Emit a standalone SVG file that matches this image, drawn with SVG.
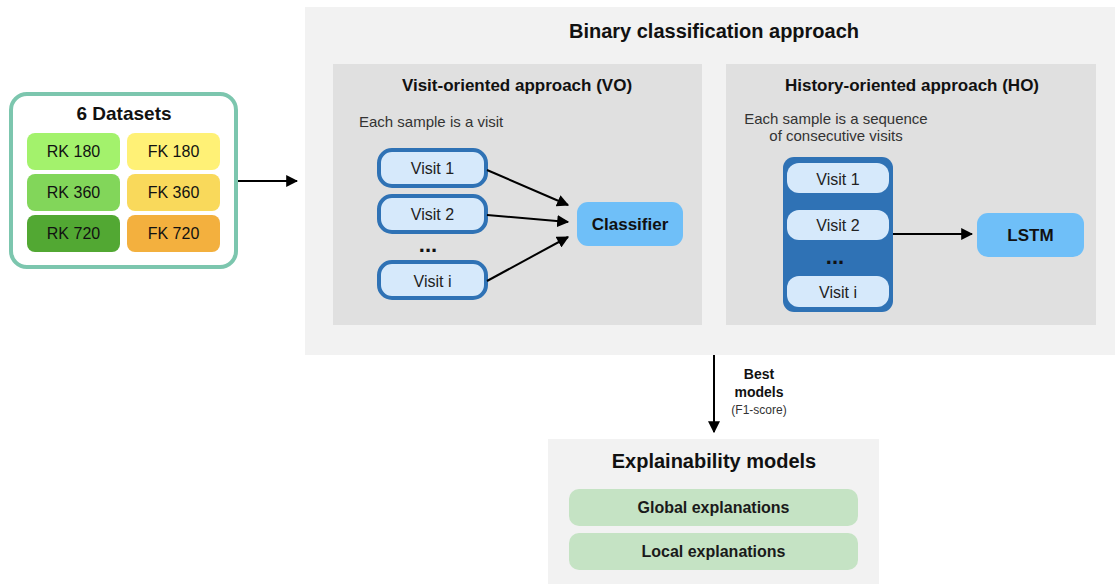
<svg xmlns="http://www.w3.org/2000/svg" width="1115" height="584" viewBox="0 0 1115 584">
  <defs>
    <marker id="arrow" viewBox="0 0 10 10" refX="9" refY="5" markerWidth="6.2" markerHeight="6" markerUnits="strokeWidth" orient="auto">
      <path d="M0,0 L10,5 L0,10 z" fill="#000"/>
    </marker>
    <style>
      text { font-family: "Liberation Sans", Arial, sans-serif; fill: #111; }
      .title { font-size: 20px; font-weight: bold; text-anchor: middle; }
      .sub { font-size: 17px; font-weight: bold; text-anchor: middle; }
      .note { font-size: 15px; fill: #333; }
      .cell { font-size: 16px; text-anchor: middle; }
      .visit { font-size: 16px; text-anchor: middle; fill: #222; }
      .model { font-size: 17px; font-weight: bold; text-anchor: middle; }
      .expl { font-size: 16px; font-weight: bold; text-anchor: middle; fill: #1a1a1a; }
      .dots { font-size: 22px; font-weight: bold; text-anchor: middle; }
      .panel { fill: #f2f2f2; }
      .inner { fill: #e0e0e0; }
      .vbox { fill: #d6e9fb; stroke: #2f72b5; stroke-width: 4; }
      .vcell { fill: #d6e9fb; }
      .mbox { fill: #6fbff8; }
      .gbox { fill: #c5e3c4; }
      .edge { stroke: #000; stroke-width: 2; fill: none; marker-end: url(#arrow); }
    </style>
  </defs>

  <rect width="1115" height="584" fill="#fff"/>

  <!-- Datasets -->
  <g id="datasets">
    <rect x="11" y="94" width="225" height="173" rx="16" fill="#fff" stroke="#7cc6ae" stroke-width="4"/>
    <text class="title" x="124" y="120" style="font-size:19px">6 Datasets</text>
    <rect x="27" y="133" width="93" height="37" rx="8" fill="#a3f26c"/>
    <text class="cell" x="73.5" y="157">RK 180</text>
    <rect x="127" y="133" width="93" height="37" rx="8" fill="#fff176"/>
    <text class="cell" x="173.5" y="157">FK 180</text>
    <rect x="27" y="174" width="93" height="37" rx="8" fill="#82d65a"/>
    <text class="cell" x="73.5" y="198">RK 360</text>
    <rect x="127" y="174" width="93" height="37" rx="8" fill="#f9d95b"/>
    <text class="cell" x="173.5" y="198">FK 360</text>
    <rect x="27" y="215" width="93" height="37" rx="8" fill="#52a833"/>
    <text class="cell" x="73.5" y="239">RK 720</text>
    <rect x="127" y="215" width="93" height="37" rx="8" fill="#f3b03e"/>
    <text class="cell" x="173.5" y="239">FK 720</text>
  </g>

  <!-- Binary classification panel -->
  <g id="binary-classification">
    <rect class="panel" x="305" y="7" width="810" height="348"/>
    <text class="title" x="714" y="38">Binary classification approach</text>
  </g>

  <!-- Visit-oriented approach -->
  <g id="visit-oriented">
    <rect class="inner" x="333" y="64" width="369" height="261"/>
    <text class="sub" x="517" y="91">Visit-oriented approach (VO)</text>
    <text class="note" x="359" y="127">Each sample is a visit</text>
  </g>
  <g id="vo-visit-1">
    <rect class="vbox" x="379" y="150" width="107" height="36" rx="13"/>
    <text class="visit" x="432.5" y="174">Visit 1</text>
  </g>
  <g id="vo-visit-2">
    <rect class="vbox" x="379" y="196" width="107" height="36" rx="13"/>
    <text class="visit" x="432.5" y="220">Visit 2</text>
  </g>
  <text class="dots" x="428" y="252">...</text>
  <g id="vo-visit-i">
    <rect class="vbox" x="379" y="262" width="107" height="36" rx="13"/>
    <text class="visit" x="432.5" y="287">Visit i</text>
  </g>
  <g id="classifier">
    <rect class="mbox" x="577" y="202" width="106" height="44" rx="11"/>
    <text class="model" x="630" y="230">Classifier</text>
  </g>

  <!-- History-oriented approach -->
  <g id="history-oriented">
    <rect class="inner" x="726" y="64" width="370" height="261"/>
    <text class="sub" x="912" y="91">History-oriented approach (HO)</text>
    <text class="note" x="836" y="124" text-anchor="middle">Each sample is a sequence</text>
    <text class="note" x="836" y="141" text-anchor="middle">of consecutive visits</text>
  </g>
  <g id="visit-sequence">
    <rect x="783" y="157" width="110" height="155" rx="11" fill="#2f72b5"/>
    <rect class="vcell" x="787" y="163" width="102" height="30" rx="12"/>
    <text class="visit" x="838" y="185">Visit 1</text>
    <rect class="vcell" x="787" y="210" width="102" height="30" rx="12"/>
    <text class="visit" x="838" y="231">Visit 2</text>
    <text class="dots" x="835" y="264">...</text>
    <rect class="vcell" x="787" y="276" width="102" height="31" rx="12"/>
    <text class="visit" x="838" y="298">Visit i</text>
  </g>
  <g id="lstm">
    <rect class="mbox" x="977" y="213" width="107" height="44" rx="11"/>
    <text class="model" x="1030.5" y="241">LSTM</text>
  </g>

  <!-- Explainability models -->
  <g id="explainability">
    <rect class="panel" x="548" y="439" width="331" height="145"/>
    <text class="title" x="714" y="468">Explainability models</text>
  </g>
  <g id="global-explanations">
    <rect class="gbox" x="569" y="489" width="289" height="37" rx="10"/>
    <text class="expl" x="713.5" y="513">Global explanations</text>
  </g>
  <g id="local-explanations">
    <rect class="gbox" x="569" y="533" width="289" height="37" rx="10"/>
    <text class="expl" x="713.5" y="557">Local explanations</text>
  </g>

  <!-- Connectors -->
  <g id="connectors">
    <line class="edge" x1="238" y1="181" x2="297" y2="181"/>
    <line class="edge" x1="487" y1="170" x2="568" y2="205"/>
    <line class="edge" x1="487" y1="215" x2="568" y2="222"/>
    <line class="edge" x1="487" y1="281" x2="568" y2="237"/>
    <line class="edge" x1="893" y1="234" x2="972" y2="234"/>
    <line class="edge" x1="714" y1="355" x2="714" y2="432"/>
    <text x="759" y="379" text-anchor="middle" style="font-size:14px;font-weight:bold">Best</text>
    <text x="759" y="397" text-anchor="middle" style="font-size:14px;font-weight:bold">models</text>
    <text x="759" y="414" text-anchor="middle" style="font-size:12px;fill:#333">(F1-score)</text>
  </g>
</svg>
